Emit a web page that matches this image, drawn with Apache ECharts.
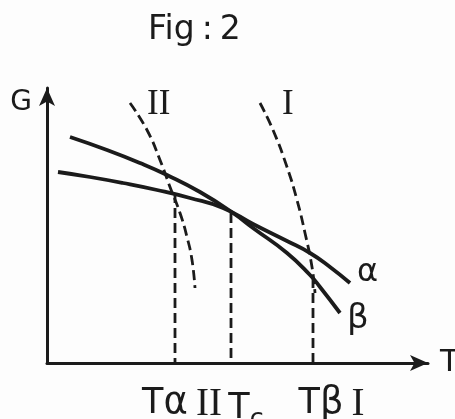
<!DOCTYPE html>
<html>
<head>
<meta charset="utf-8">
<script src="https://cdn.jsdelivr.net/npm/echarts@6/dist/echarts.min.js"></script>
<style>
html,body{margin:0;padding:0;background:#fdfdfd;}
#c{width:455px;height:419px;}
</style>
</head>
<body>
<div id="c"></div>
<script>
// Values (T along x, G along y, arbitrary units)
const betaCurve = [[23,226],[60,213],[93,200],[120,188],[153,171],[186,150],[206,135],[240,110],[263,88],[273,76],[293,50]];
const alphaCurve = [[11,191],[43,186],[76,180],[110,173],[143,165],[176,155],[206,139],[240,122],[263,110],[283,96],[303,80]];
const dashII = [[83,260],[100,233],[113,203],[123,176],[133,150],[140,126],[145,103],[148,75]];
const dashI = [[213,260],[226,233],[240,196],[250,163],[258,130],[265,96],[268,70]];
const tAlpha = [[128,170],[128,0]];
const tC = [[184,150],[184,0]];
const tBeta = [[266,85],[266,0]];
const tickValues = [118,162,199,274,311];
const tickLabels = ['{t|T}{g|α}','{r|II}','{t|T}{s|c}','{t|T}{g|β}','{r|I}'];

const ink = '#1b1b1b';
const chart = echarts.init(document.getElementById('c'));

function labelled(points, idx, text, dist, offset, size, family) {
  return points.map((p, i) => i === idx ? {
    value: p,
    label: {show: true, formatter: text, position: 'right', distance: dist, offset: offset || [0,0],
      color: ink, fontSize: size, fontFamily: family}
  } : p);
}
const dashed = {type: [10, 5], width: 2.8, color: ink};
const solid = {width: 3.8, color: ink};

chart.setOption({
  backgroundColor: '#fdfdfd',
  animation: false,
  title: {text: '{a|Fig}{b|:}{a|2}', left: 143, top: 9,
    textStyle: {fontWeight: 'normal', rich: {
      a: {fontSize: 33, fontWeight: 'normal', fontFamily: 'DejaVu Sans', color: ink},
      b: {fontSize: 33, fontWeight: 'normal', fontFamily: 'DejaVu Sans', color: ink, padding: [0,7,0,7]}
    }}},
  grid: {left: 47, top: 88, width: 381, height: 275, containLabel: false, outerBoundsMode: 'none'},
  xAxis: {type: 'value', min: 0, max: 381,
    axisLine: {show: true, symbol: ['none','arrow'], symbolSize: [12,18], lineStyle: {color: ink, width: 3}},
    axisTick: {show: false}, splitLine: {show: false},
    name: 'T', nameLocation: 'end', nameGap: 12,
    nameTextStyle: {fontSize: 31, fontFamily: 'DejaVu Sans', color: ink, align: 'left', verticalAlign: 'middle', padding: [8,0,0,0]},
    axisLabel: {customValues: tickValues, margin: 22, color: ink,
      formatter: function (v) { return tickLabels[tickValues.indexOf(v)] || ''; },
      rich: {
        t: {fontSize: 35, fontFamily: 'DejaVu Sans', color: ink},
        g: {fontSize: 37, fontFamily: 'DejaVu Sans', color: ink},
        r: {fontSize: 39, fontFamily: 'Liberation Serif', color: ink},
        s: {fontSize: 26, fontFamily: 'DejaVu Sans', color: ink, padding: [22,0,0,0]}
      }}
  },
  yAxis: {type: 'value', min: 0, max: 275,
    axisLine: {show: true, symbol: ['none','arrow'], symbolSize: [12,18], lineStyle: {color: ink, width: 3}},
    axisTick: {show: false}, splitLine: {show: false}, axisLabel: {show: false},
    name: 'G', nameLocation: 'end', nameGap: -15,
    nameTextStyle: {fontSize: 28, fontFamily: 'DejaVu Sans', color: ink, align: 'right', verticalAlign: 'middle', padding: [0,15,0,0]}
  },
  series: [
    {type: 'line', data: labelled(betaCurve, betaCurve.length-1, 'β', 7, [0,6], 34, 'DejaVu Sans'), smooth: true, symbol: 'circle', symbolSize: 0, showSymbol: true, lineStyle: solid},
    {type: 'line', data: labelled(alphaCurve, alphaCurve.length-1, 'α', 7, [0,-10], 32, 'DejaVu Sans'), smooth: true, symbol: 'circle', symbolSize: 0, showSymbol: true, lineStyle: solid},
    {type: 'line', data: labelled(dashII, 0, 'II', 17, [0,2], 35, 'Liberation Serif'), smooth: true, symbol: 'circle', symbolSize: 0, showSymbol: true, lineStyle: dashed},
    {type: 'line', data: labelled(dashI, 0, 'I', 22, [0,2], 35, 'Liberation Serif'), smooth: true, symbol: 'circle', symbolSize: 0, showSymbol: true, lineStyle: dashed},
    {type: 'line', data: tAlpha, symbol: 'none', lineStyle: dashed},
    {type: 'line', data: tC, symbol: 'none', lineStyle: dashed},
    {type: 'line', data: tBeta, symbol: 'none', lineStyle: dashed}
  ]
});
</script>
</body>
</html>
